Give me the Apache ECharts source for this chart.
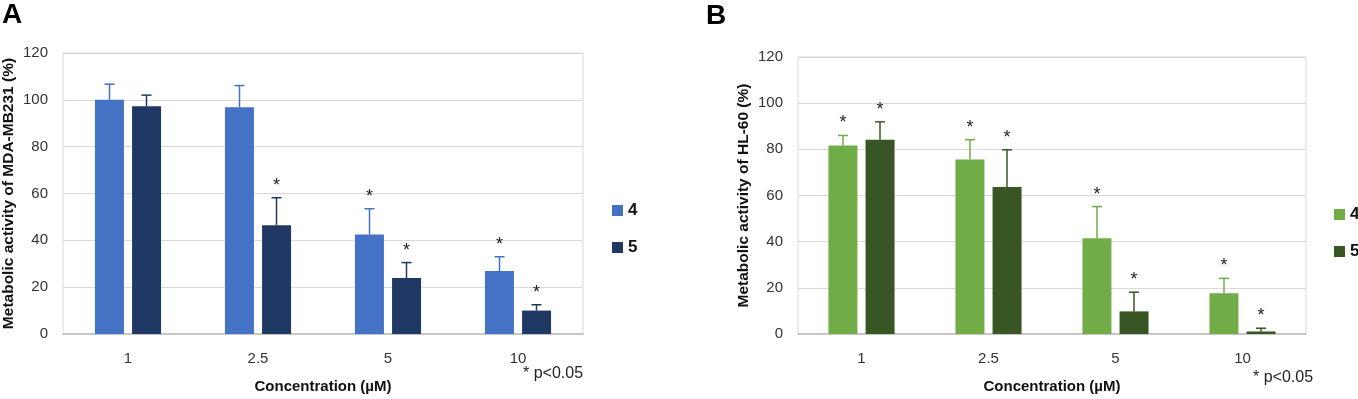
<!DOCTYPE html>
<html>
<head>
<meta charset="utf-8">
<script src="https://cdn.jsdelivr.net/npm/echarts@6/dist/echarts.min.js"></script>
<style>
  html, body { margin: 0; padding: 0; background: #fff; }
  #chart { width: 1358px; height: 399px; }
</style>
</head>
<body>
<div id="chart"></div>
<script>
// concentrations (µM)
var categories = ['1', '2.5', '5', '10'];
var yTicks = [0, 20, 40, 60, 80, 100, 120];

// panel A: MDA-MB231
var a4 = [100, 96.8, 42.5, 26.9];
var a4Err = [6.7, 9.3, 11, 6.1];
var a4Sig = [0, 0, 1, 1];
var a5 = [97.3, 46.4, 23.9, 10];
var a5Err = [4.7, 11.8, 6.6, 2.5];
var a5Sig = [0, 1, 1, 1];

// panel B: HL-60
var b4 = [81.7, 75.6, 41.5, 17.6];
var b4Err = [4.3, 8.6, 13.7, 6.5];
var b4Sig = [1, 1, 1, 1];
var b5 = [84.2, 63.7, 9.8, 1.1];
var b5Err = [7.7, 16.1, 8.3, 1.4];
var b5Sig = [1, 1, 1, 1];

var FONT = 'Liberation Sans';
var BAR_W = 29;
var GAP_PX = 8;

function errData(vals, errs, sig) {
  return vals.map(function (v, i) { return [i, v, v + errs[i], sig[i]]; });
}

// error bar + significance star, shifted onto the matching bar
function errSeries(name, idx, data, color, offset) {
  return {
    name: name,
    type: 'custom',
    xAxisIndex: idx,
    yAxisIndex: idx,
    z: 5,
    silent: true,
    data: data,
    renderItem: function (params, api) {
      var base = api.coord([api.value(0), api.value(1)]);
      var top = api.coord([api.value(0), api.value(2)]);
      var x = base[0] + offset;
      var kids = [
        { type: 'line', shape: { x1: x, y1: base[1], x2: x, y2: top[1] },
          style: { stroke: color, lineWidth: 1.5 } },
        { type: 'line', shape: { x1: x - 5, y1: top[1], x2: x + 5, y2: top[1] },
          style: { stroke: color, lineWidth: 1.5 } }
      ];
      if (api.value(3)) {
        kids.push({ type: 'text', x: x, y: top[1] - 3,
          style: { text: '*', fill: '#222', font: '18px ' + FONT,
                   align: 'center', verticalAlign: 'bottom' } });
      }
      return { type: 'group', children: kids };
    }
  };
}

function barSeries(name, idx, vals, color) {
  return {
    name: name,
    type: 'bar',
    xAxisIndex: idx,
    yAxisIndex: idx,
    barWidth: BAR_W,
    barGap: Math.round(GAP_PX / BAR_W * 100) + '%',
    itemStyle: { color: color },
    data: vals
  };
}

function xAx(idx, gap) {
  return {
    type: 'category',
    gridIndex: idx,
    data: categories,
    axisTick: { show: false },
    axisLine: { lineStyle: { color: '#bfbfbf', width: 1.5 } },
    axisLabel: { color: '#333', fontSize: 15, fontFamily: FONT, margin: 17 },
    name: 'Concentration (µM)',
    nameLocation: 'middle',
    nameGap: gap,
    nameTextStyle: { color: '#111', fontSize: 15, fontWeight: 'bold', fontFamily: FONT }
  };
}

function yAx(idx, title) {
  return {
    type: 'value',
    gridIndex: idx,
    min: yTicks[0],
    max: yTicks[yTicks.length - 1],
    interval: yTicks[1] - yTicks[0],
    axisLine: { show: false },
    axisTick: { show: false },
    splitLine: { lineStyle: { color: '#d9d9d9' } },
    axisLabel: { color: '#333', fontSize: 15, fontFamily: FONT, margin: 15 },
    name: title,
    nameLocation: 'middle',
    nameGap: 46,
    nameTextStyle: { color: '#111', fontSize: 15.5, fontWeight: 'bold', fontFamily: FONT }
  };
}

function legendOf(left, top, c4, c5) {
  return {
    orient: 'vertical', left: left, top: top, padding: 0,
    itemWidth: 11, itemHeight: 11, itemGap: 20,
    icon: 'rect', selectedMode: false,
    textStyle: { fontSize: 17, fontWeight: 'bold', color: '#111' },
    data: [{ name: '4', itemStyle: { color: c4 } }, { name: '5', itemStyle: { color: c5 } }]
  };
}

var chart = echarts.init(document.getElementById('chart'));
var off = (BAR_W + GAP_PX) / 2;

chart.setOption({
  animation: false,
  textStyle: { fontFamily: FONT },
  grid: [
    { left: 62, top: 53, width: 521, height: 285, show: true, borderColor: '#d9d9d9', borderWidth: 1 },
    { left: 798, top: 57, width: 508, height: 286, show: true, borderColor: '#d9d9d9', borderWidth: 1 }
  ],
  legend: [
    legendOf(612, 202, '#4472c4', '#203864'),
    legendOf(1334, 206, '#70ad47', '#375623')
  ],
  xAxis: [xAx(0, 45), xAx(1, 45)],
  yAxis: [yAx(0, 'Metabolic activity of MDA-MB231 (%)'), yAx(1, 'Metabolic activity of HL-60 (%)')],
  graphic: [
    { type: 'text', left: 2, top: 1, style: { text: 'A', font: 'bold 28px ' + FONT, fill: '#000' } },
    { type: 'text', left: 706, top: 2, style: { text: 'B', font: 'bold 28px ' + FONT, fill: '#000' } },
    { type: 'text', left: 523, top: 366, style: { text: '* p<0.05', font: '16px ' + FONT, fill: '#222' } },
    { type: 'text', left: 1253, top: 370, style: { text: '* p<0.05', font: '16px ' + FONT, fill: '#222' } }
  ],
  series: [
    barSeries('4', 0, a4, '#4472c4'),
    barSeries('5', 0, a5, '#203864'),
    errSeries('4', 0, errData(a4, a4Err, a4Sig), '#4472c4', -off),
    errSeries('5', 0, errData(a5, a5Err, a5Sig), '#203864', off),
    barSeries('4', 1, b4, '#70ad47'),
    barSeries('5', 1, b5, '#375623'),
    errSeries('4', 1, errData(b4, b4Err, b4Sig), '#70ad47', -off),
    errSeries('5', 1, errData(b5, b5Err, b5Sig), '#375623', off)
  ]
});
</script>
</body>
</html>
